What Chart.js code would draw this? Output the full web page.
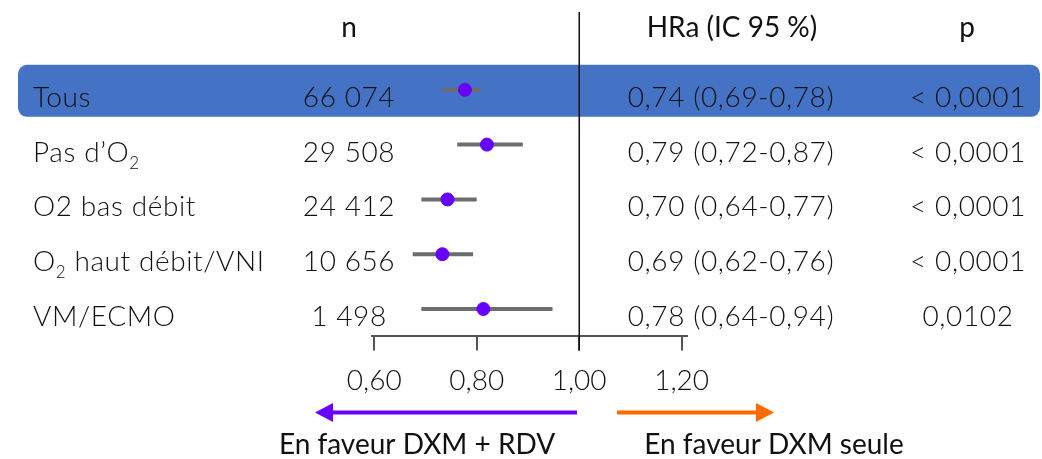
<!DOCTYPE html>
<html lang="fr">
<head>
<meta charset="UTF-8" />
<title>Forest plot HRa</title>
<script src="https://cdn.jsdelivr.net/npm/chart.js@4"></script>
<style>
  html, body { margin: 0; padding: 0; background: #fff; }
  .wrap { width: 1042px; height: 459px; position: relative; }
</style>
</head>
<body>
<div class="wrap"><canvas id="chart"></canvas></div>
<script>
// data
const rowLabels = ["Tous", "Pas d’O_2", "O2 bas débit", "O_2 haut débit/VNI", "VM/ECMO"];
const nValues = ["66 074", "29 508", "24 412", "10 656", "1 498"];
const hrLabels = ["0,74 (0,69-0,78)", "0,79 (0,72-0,87)", "0,70 (0,64-0,77)", "0,69 (0,62-0,76)", "0,78 (0,64-0,94)"];
const pLabels = ["< 0,0001", "< 0,0001", "< 0,0001", "< 0,0001", "0,0102"];
const hrPoint = [0.777, 0.820, 0.743, 0.733, 0.813];
const ciLow = [0.734, 0.762, 0.692, 0.675, 0.692];
const ciHigh = [0.808, 0.890, 0.800, 0.793, 0.948];
const xTicks = [0.6, 0.8, 1.0, 1.2];
const headers = ["n", "HRa (IC 95 %)", "p"];
const arrowLabels = ["En faveur DXM + RDV", "En faveur DXM seule"];

const FONT = "Lato, 'Open Sans', sans-serif";
const TXT = "#111";

// text with "_x" = subscript x
function drawRich(ctx, str, x, y, size, align) {
  const parts = [];
  for (let i = 0; i < str.length; i++) {
    if (str[i] === "_" && i + 1 < str.length) { parts.push({ t: str[i + 1], sub: true }); i++; }
    else {
      if (parts.length && !parts[parts.length - 1].sub) parts[parts.length - 1].t += str[i];
      else parts.push({ t: str[i], sub: false });
    }
  }
  const big = "300 " + size + "px " + FONT;
  const small = "300 " + Math.round(size * 0.6) + "px " + FONT;
  ctx.letterSpacing = "0.6px";
  let w = 0;
  parts.forEach(p => { ctx.font = p.sub ? small : big; p.w = ctx.measureText(p.t).width; w += p.w; });
  let cx = align === "center" ? x - w / 2 : (align === "right" ? x - w : x);
  ctx.textAlign = "left";
  ctx.textBaseline = "alphabetic";
  parts.forEach(p => {
    ctx.font = p.sub ? small : big;
    ctx.fillText(p.t, cx, p.sub ? y + 7 : y);
    cx += p.w;
  });
  ctx.letterSpacing = "0px";
}

const tablePlugin = {
  id: "table",
  beforeDatasetsDraw(chart) {
    const { ctx, scales: { x, y }, chartArea } = chart;
    ctx.save();
    // highlight box for "Tous"
    const r0 = y.getPixelForValue(0);
    ctx.fillStyle = "#4472c4";
    ctx.beginPath();
    ctx.roundRect(18, r0 - 25, 1022, 52, 9);
    ctx.fill();
    // reference line at 1
    ctx.strokeStyle = "#111";
    ctx.lineWidth = 1.5;
    const x1 = Math.round(x.getPixelForValue(1)) + 0.25;
    ctx.beginPath();
    ctx.moveTo(x1, chartArea.top);
    ctx.lineTo(x1, chartArea.bottom + 14);
    ctx.stroke();
    ctx.restore();
  },
  afterDraw(chart) {
    const { ctx, scales: { x, y } } = chart;
    ctx.save();
    ctx.fillStyle = TXT;
    // headers
    ctx.font = "400 28px " + FONT;
    ctx.textAlign = "center";
    ctx.textBaseline = "alphabetic";
    ctx.fillText(headers[0], 349, 37);
    ctx.fillText(headers[1], 732, 37);
    ctx.fillText(headers[2], 967, 37);
    // rows
    rowLabels.forEach((lab, i) => {
      const by = y.getPixelForValue(i) + 17;
      drawRich(ctx, lab, 33, by, 28, "left");
      drawRich(ctx, nValues[i], 349, by, 28, "center");
      drawRich(ctx, hrLabels[i], 731, by, 28, "center");
      drawRich(ctx, pLabels[i], 968, by, 28, "center");
    });
    // arrows
    const ay = 412.5;
    ctx.lineWidth = 4;
    ctx.strokeStyle = "#6a00ff";
    ctx.fillStyle = "#6a00ff";
    ctx.beginPath(); ctx.moveTo(577, ay); ctx.lineTo(330, ay); ctx.stroke();
    ctx.beginPath(); ctx.moveTo(315, ay); ctx.lineTo(333, ay - 9.5); ctx.lineTo(333, ay + 9.5); ctx.closePath(); ctx.fill();
    ctx.strokeStyle = "#ff6a00";
    ctx.fillStyle = "#ff6a00";
    ctx.beginPath(); ctx.moveTo(617, ay); ctx.lineTo(758, ay); ctx.stroke();
    ctx.beginPath(); ctx.moveTo(774, ay); ctx.lineTo(756, ay - 9.5); ctx.lineTo(756, ay + 9.5); ctx.closePath(); ctx.fill();
    // arrow captions
    ctx.fillStyle = TXT;
    ctx.font = "400 28px " + FONT;
    ctx.textAlign = "center";
    ctx.fillText(arrowLabels[0], 417, 454);
    ctx.fillText(arrowLabels[1], 774, 454);
    ctx.restore();
  }
};

const ciSets = rowLabels.map((_, i) => ({
  type: "line",
  data: [{ x: ciLow[i], y: i }, { x: ciHigh[i], y: i }],
  borderColor: "#6d6d6d",
  borderWidth: 4,
  borderCapStyle: "butt",
  pointRadius: 0,
  fill: false,
  order: 2,
}));

new Chart(document.getElementById("chart"), {
  type: "scatter",
  data: {
    datasets: [
      ...ciSets,
      {
        type: "scatter",
        data: hrPoint.map((v, i) => ({ x: v, y: i })),
        backgroundColor: "#6600ff",
        borderColor: "#6600ff",
        pointRadius: 6.5,
        order: 1,
      },
    ],
  },
  options: {
    responsive: true,
    maintainAspectRatio: false,
    animation: false,
    layout: { padding: { left: 371.7, right: 355.3, top: 12, bottom: 47 } },
    plugins: { legend: { display: false }, tooltip: { enabled: false } },
    scales: {
      x: {
        type: "linear",
        min: 0.595,
        max: 1.21,
        afterBuildTicks: (axis) => { axis.ticks = xTicks.map(v => ({ value: v })); },
        grid: { drawOnChartArea: false, drawTicks: true, tickLength: 14, color: "#555", lineWidth: 2 },
        border: { color: "#555", width: 2 },
        ticks: {
          padding: 14,
          color: TXT,
          font: { family: FONT, size: 28, weight: 300 },
          callback: (v) => Number(v).toFixed(2).replace(".", ","),
          maxRotation: 0,
          autoSkip: false,
        },
      },
      y: {
        type: "linear",
        reverse: true,
        min: -1.42,
        max: 4.5,
        display: false,
      },
    },
  },
  plugins: [tablePlugin],
});
</script>
</body>
</html>
